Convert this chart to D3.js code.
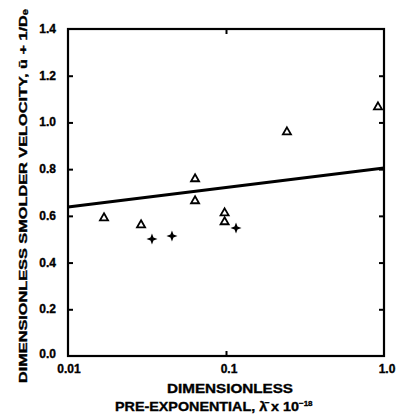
<!DOCTYPE html>
<html>
<head>
<meta charset="utf-8">
<script src="https://cdn.jsdelivr.net/npm/d3@7"></script>
<style>
  body { margin: 0; background: #fff; }
  text { font-family: 'Liberation Sans', Arial, sans-serif; font-weight: bold; fill: #000; stroke: #000; stroke-width: 0.35; }
</style>
</head>
<body>
<svg id="chart" width="396" height="415"></svg>
<script>
// triangles (open) and crosses (filled)
let triX = [0.0169, 0.029, 0.0637, 0.0637, 0.098, 0.098, 0.243, 0.916]
let triY = [0.591, 0.561, 0.758, 0.664, 0.612, 0.574, 0.959, 1.066]
let crossX = [0.034, 0.0455, 0.1157]
let crossY = [0.501, 0.514, 0.548]
// fitted line end points
let fitX = [0.01, 1.0]
let fitY = [0.638, 0.805]
let yTicks = [0, 0.2, 0.4, 0.6, 0.8, 1.0, 1.2, 1.4]
let xTicks = [0.01, 0.1, 1.0]
let xTickLabels = ['0.01', '0.1', '1.0']

let margin = { top: 29, right: 12, bottom: 59, left: 68 }
let width = 396 - margin.left - margin.right
let height = 415 - margin.top - margin.bottom

let svg = d3.select('#chart')
let chart = svg.append('g')
  .attr('transform', 'translate(' + margin.left + ',' + margin.top + ')')

let x = d3.scaleLog().domain([0.01, 1.0]).range([0, width])
let y = d3.scaleLinear().domain([0, 1.4]).range([height, 0])

// frame
chart.append('rect')
  .attr('width', width).attr('height', height)
  .attr('fill', 'none').attr('stroke', '#000').attr('stroke-width', 2.2)

// inward ticks on all four sides
let tickStyle = g => {
  g.select('.domain').remove()
  g.selectAll('.tick line').attr('stroke', '#000').attr('stroke-width', 2)
  g.selectAll('.tick text').remove()
}
chart.append('g').call(d3.axisLeft(y).tickValues(yTicks.slice(1, -1)).tickSize(-5)).call(tickStyle)
chart.append('g').attr('transform', 'translate(' + width + ',0)')
  .call(d3.axisRight(y).tickValues(yTicks.slice(1, -1)).tickSize(-5)).call(tickStyle)
chart.append('g').attr('transform', 'translate(0,' + height + ')')
  .call(d3.axisBottom(x).tickValues([0.1]).tickSize(-5)).call(tickStyle)
chart.append('g')
  .call(d3.axisTop(x).tickValues([0.1]).tickSize(-5)).call(tickStyle)

// tick labels
chart.selectAll('.ylab').data(yTicks).enter().append('text')
  .attr('class', 'ylab')
  .attr('x', -12).attr('y', (d, i) => y(d) + (i === 0 ? 2 : 4))
  .attr('text-anchor', 'end')
  .attr('font-size', 12)
  .text(d => d.toFixed(1))
chart.selectAll('.xlab').data(xTicks).enter().append('text')
  .attr('class', 'xlab')
  .attr('x', (d, i) => x(d) + (i === 0 ? 1 : 3))
  .attr('y', height + 17)
  .attr('text-anchor', 'middle')
  .attr('font-size', 12)
  .text((d, i) => xTickLabels[i])

// fitted line
chart.append('path')
  .datum(fitX.map((d, i) => [d, fitY[i]]))
  .attr('d', d3.line().x(d => x(d[0])).y(d => y(d[1])))
  .attr('stroke', '#000').attr('stroke-width', 3).attr('fill', 'none')

// triangles
chart.selectAll('.tri').data(triX.map((d, i) => [d, triY[i]])).enter().append('path')
  .attr('class', 'tri')
  .attr('transform', d => 'translate(' + x(d[0]) + ',' + y(d[1]) + ')')
  .attr('d', d3.symbol().type(d3.symbolTriangle).size(28))
  .attr('fill', '#fff').attr('stroke', '#000').attr('stroke-width', 1.8)

// crosses (4-point star)
let star = 'M0,-5.5 L1.5,-1.5 L5.5,0 L1.5,1.5 L0,5.5 L-1.5,1.5 L-5.5,0 L-1.5,-1.5 Z'
chart.selectAll('.cross').data(crossX.map((d, i) => [d, crossY[i]])).enter().append('path')
  .attr('class', 'cross')
  .attr('transform', d => 'translate(' + x(d[0]) + ',' + y(d[1]) + ')')
  .attr('d', star)
  .attr('fill', '#000')

// axis titles
svg.append('text')
  .attr('transform', 'translate(27,196) rotate(-90)')
  .attr('text-anchor', 'middle')
  .attr('font-size', 11.5)
  .attr('textLength', 374).attr('lengthAdjust', 'spacingAndGlyphs')
  .text('DIMENSIONLESS SMOLDER VELOCITY, ū + 1/Dₑ')
svg.append('text')
  .attr('x', 230).attr('y', 393)
  .attr('text-anchor', 'middle')
  .attr('font-size', 13)
  .attr('textLength', 126).attr('lengthAdjust', 'spacingAndGlyphs')
  .text('DIMENSIONLESS')
let t2 = svg.append('text')
  .attr('x', 115).attr('y', 411)
  .attr('font-size', 13)
t2.append('tspan').attr('textLength', 184).attr('lengthAdjust', 'spacingAndGlyphs')
  .text('PRE-EXPONENTIAL, λ̄ x 10')
t2.append('tspan').attr('dy', -5).attr('font-size', 8).text('−18')
</script>
</body>
</html>
